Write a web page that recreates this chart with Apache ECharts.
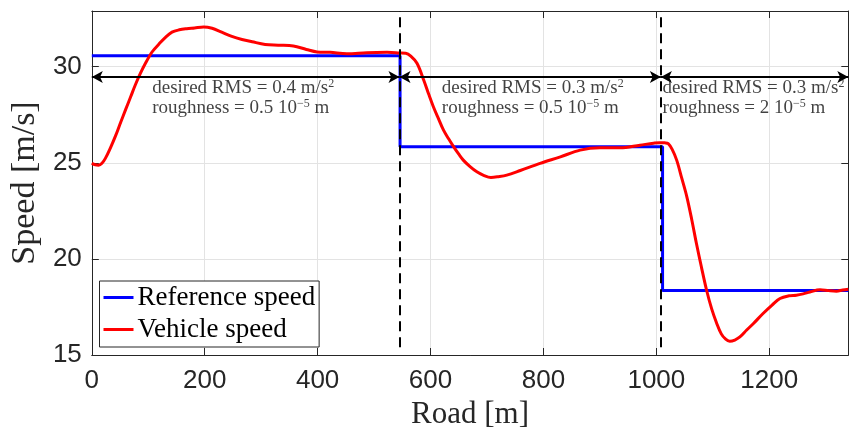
<!DOCTYPE html>
<html>
<head>
<meta charset="utf-8">
<script src="https://cdn.jsdelivr.net/npm/echarts@6/dist/echarts.min.js"></script>
<style>
  html, body { margin: 0; padding: 0; background: #fff; }
  #chart { width: 851px; height: 435px; }
</style>
</head>
<body>
<div id="chart"></div>
<script>
// Road distance [m] and speed [m/s]
const xTicks = [0, 200, 400, 600, 800, 1000, 1200];
const yTicks = [15, 20, 25, 30];

// Reference speed profile (piecewise constant)
const refRoad  = [0, 546, 546, 1011, 1011, 1340];
const refSpeed = [30.57, 30.57, 25.83, 25.83, 18.35, 18.35];

// Measured vehicle speed
const vehRoad = [0, 6, 12, 18, 24, 33, 42, 51, 60, 69, 77, 86, 95, 107, 119, 130, 142, 155, 168, 182,
  198, 213, 230, 248, 266, 284, 307, 330, 357, 380, 399, 422, 452, 487, 523, 545, 556, 565, 576, 588,
  597, 605, 614, 623, 632, 641, 650, 658, 670, 682, 694, 707, 720, 735, 759, 794, 830, 865, 900, 936,
  971, 995, 1006, 1015, 1021, 1028, 1036, 1045, 1054, 1063, 1071, 1080, 1089, 1098, 1107, 1115, 1122,
  1130, 1139, 1148, 1160, 1172, 1189, 1205, 1219, 1235, 1248, 1260, 1272, 1290, 1305, 1319, 1330, 1340];
const vehSpeed = [24.97, 24.9, 24.88, 24.98, 25.23, 25.78, 26.4, 27.1, 27.78, 28.45, 29.05, 29.65, 30.18,
  30.78, 31.18, 31.52, 31.8, 31.92, 31.98, 32.02, 32.07, 32.0, 31.8, 31.58, 31.42, 31.3, 31.16, 31.12,
  31.08, 30.9, 30.77, 30.75, 30.68, 30.73, 30.75, 30.72, 30.7, 30.55, 30.18, 29.3, 28.55, 27.92, 27.3,
  26.7, 26.25, 25.83, 25.45, 25.14, 24.8, 24.53, 24.35, 24.24, 24.28, 24.36, 24.6, 24.97, 25.31, 25.66,
  25.78, 25.78, 25.92, 26.02, 26.05, 26.04, 26.0, 25.7, 25.14, 24.2, 23.23, 22.0, 20.8, 19.55, 18.37,
  17.4, 16.64, 16.1, 15.85, 15.72, 15.78, 15.94, 16.3, 16.64, 17.16, 17.6, 17.94, 18.08, 18.11, 18.18,
  18.28, 18.4, 18.35, 18.32, 18.38, 18.42];

// Segment boundaries, span arrows and their captions
const segmentEdges = [0, 545, 1008, 1340];
const arrowSpeed = 29.46;
const dashBottom = 15.4;
const captionRoad = [107, 620, 1011];
const captionSpeed = 28.37;
const desiredRms = ['0.4', '0.3', '0.3'];
const roughness = ['0.5', '0.5', '2'];

const X_MIN = 0, X_MAX = 1340, Y_MIN = 15, Y_MAX = 32.9;

const AXIS_COLOR = '#262626';
const SANS = '"Liberation Sans", Arial, sans-serif';
const SERIF = '"Liberation Serif", "Times New Roman", serif';

const zip = (a, b) => a.map((v, i) => [v, b[i]]);

// Dashed segment boundaries and double-headed span arrows
const boundaryLines = segmentEdges.slice(1, -1).map(x => [
  { coord: [x, dashBottom], symbol: 'none' },
  { coord: [x, Y_MAX], symbol: 'none' }
]);
const spanArrows = segmentEdges.slice(0, -1).map((x, i) => [
  { coord: [x, arrowSpeed], lineStyle: { type: 'solid' } },
  { coord: [segmentEdges[i + 1], arrowSpeed], lineStyle: { type: 'solid' } }
]);

const captions = captionRoad.map((x, i) => ({
  value: [x, captionSpeed],
  label: {
    formatter: '{t|desired RMS = ' + desiredRms[i] + ' m/s}{sup|2}\n' +
               '{t|roughness = ' + roughness[i] + ' 10}{sup|\u22125}{t| m}'
  }
}));

const chart = echarts.init(document.getElementById('chart'), null, { renderer: 'canvas' });

const boxAxisX = {
  type: 'value', min: X_MIN, max: X_MAX, interval: 200,
  axisLine: { show: true, onZero: false, lineStyle: { color: AXIS_COLOR, width: 1 } },
  axisTick: { show: true, inside: true, length: 7, lineStyle: { color: AXIS_COLOR } }
};
const boxAxisY = {
  type: 'value', min: Y_MIN, max: Y_MAX, interval: 5,
  axisLine: { show: true, onZero: false, lineStyle: { color: AXIS_COLOR, width: 1 } },
  axisTick: { show: true, inside: true, length: 7, lineStyle: { color: AXIS_COLOR } }
};

chart.setOption({
  animation: false,
  backgroundColor: '#ffffff',
  grid: { left: 91.3, right: 2.7, top: 11, bottom: 80, containLabel: false },
  xAxis: [
    Object.assign({}, boxAxisX, {
      position: 'bottom',
      name: 'Road [m]',
      nameLocation: 'middle',
      nameGap: 42,
      nameTextStyle: { fontFamily: SERIF, fontSize: 31, color: AXIS_COLOR },
      axisLabel: {
        margin: 13, fontFamily: SANS, fontSize: 26, color: AXIS_COLOR,
        showMaxLabel: false,
        formatter: v => String(v)
      },
      splitLine: { show: true, lineStyle: { color: '#e3e3e3', width: 1 } }
    }),
    Object.assign({}, boxAxisX, {
      position: 'top',
      axisLabel: { show: false },
      splitLine: { show: false }
    })
  ],
  yAxis: [
    Object.assign({}, boxAxisY, {
      position: 'left',
      name: 'Speed [m/s]',
      nameLocation: 'middle',
      nameGap: 47,
      nameTextStyle: { fontFamily: SERIF, fontSize: 34, color: AXIS_COLOR },
      axisLabel: {
        margin: 10, fontFamily: SANS, fontSize: 26, color: AXIS_COLOR,
        showMaxLabel: false,
        formatter: v => String(v)
      },
      splitLine: { show: true, lineStyle: { color: '#e3e3e3', width: 1 } }
    }),
    Object.assign({}, boxAxisY, {
      position: 'right',
      axisLabel: { show: false },
      splitLine: { show: false }
    })
  ],
  legend: {
    data: ['Reference speed', 'Vehicle speed'],
    orient: 'vertical',
    left: 99.5,
    top: 281,
    padding: [3, 4, 4, 4],
    itemGap: 5,
    itemWidth: 30,
    itemHeight: 3,
    icon: 'rect',
    backgroundColor: '#ffffff',
    borderColor: AXIS_COLOR,
    borderWidth: 1,
    borderRadius: 0,
    textStyle: { fontFamily: SERIF, fontSize: 27, lineHeight: 26, color: '#000', padding: [0, 0, 0, -1] }
  },
  series: [
    {
      name: 'Reference speed',
      type: 'line',
      data: zip(refRoad, refSpeed),
      showSymbol: false,
      symbol: 'none',
      lineStyle: { color: '#0000ff', width: 3 },
      itemStyle: { color: '#0000ff' },
      z: 3
    },
    {
      name: 'Vehicle speed',
      type: 'line',
      data: zip(vehRoad, vehSpeed),
      smooth: 0.35,
      showSymbol: false,
      symbol: 'none',
      lineStyle: { color: '#ff0000', width: 3 },
      itemStyle: { color: '#ff0000' },
      z: 4
    },
    {
      name: 'segments',
      type: 'line',
      data: [],
      silent: true,
      z: 5,
      markLine: {
        silent: true,
        animation: false,
        symbol: ['arrow', 'arrow'],
        symbolSize: [9, 11],
        label: { show: false },
        lineStyle: { color: '#000000', width: 2, type: [10, 6] },
        emphasis: { disabled: true },
        data: boundaryLines.concat(spanArrows)
      }
    },
    {
      name: 'captions',
      type: 'scatter',
      symbolSize: 0,
      silent: true,
      z: 6,
      data: captions,
      label: {
        show: true,
        position: 'right',
        distance: 0,
        color: '#111',
        rich: {
          t: { fontFamily: SERIF, fontSize: 19, lineHeight: 20, color: '#111' },
          sup: { fontFamily: SERIF, fontSize: 12, lineHeight: 12, verticalAlign: 'top', color: '#111' }
        }
      }
    }
  ]
});
</script>
</body>
</html>
